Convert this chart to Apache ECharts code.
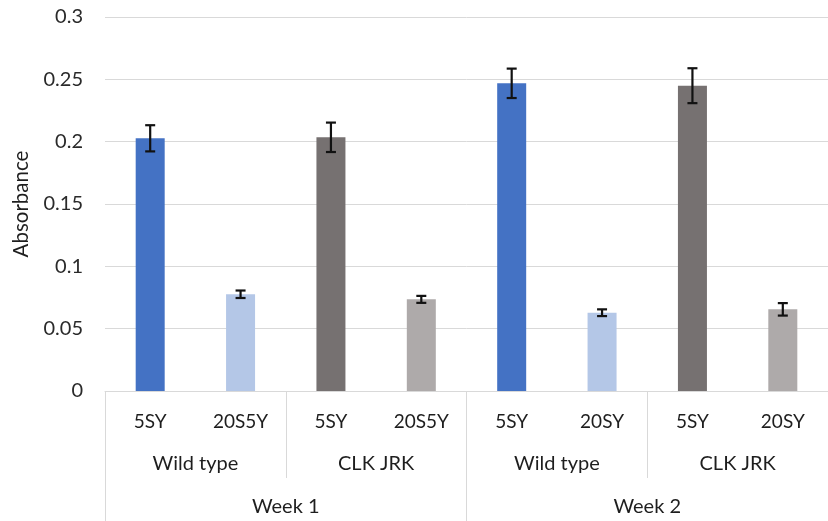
<!DOCTYPE html>
<html>
<head>
<meta charset="utf-8">
<script src="https://cdn.jsdelivr.net/npm/echarts@6/dist/echarts.min.js"></script>
<style>
  html, body { margin: 0; padding: 0; background: #fff; }
  #chart { width: 828px; height: 521px; }
</style>
</head>
<body>
<div id="chart"></div>
<script>
const samples = ["5SY", "20S5Y", "5SY", "20S5Y", "5SY", "20SY", "5SY", "20SY"];
const strains = ["Wild type", "CLK JRK", "Wild type", "CLK JRK"];
const weeks = ["Week 1", "Week 2"];
const absorbance = [0.2027, 0.0776, 0.2035, 0.0735, 0.2468, 0.0628, 0.2449, 0.0655];
const errors = [0.0105, 0.0030, 0.0118, 0.0028, 0.0118, 0.0027, 0.0140, 0.0050];
const yTicks = [0, 0.05, 0.1, 0.15, 0.2, 0.25, 0.3];

const colors = ["#4472c4", "#b4c7e7", "#767171", "#aeaaaa", "#4472c4", "#b4c7e7", "#767171", "#aeaaaa"];
const font = "Lato";
const lineColor = "#d9d9d9";
const textColor = "#1e1e1e";

const chart = echarts.init(document.getElementById("chart"));

chart.setOption({
  backgroundColor: "#fff",
  animation: false,
  grid: { left: 105, right: -8, top: 17, bottom: 130 },
  xAxis: [
    {
      type: "category",
      position: "bottom",
      data: samples,
      axisLine: { show: true, lineStyle: { color: lineColor, width: 1 } },
      axisTick: { show: false },
      axisLabel: { margin: 21, fontFamily: font, fontSize: 19, color: textColor },
    },
    {
      type: "category",
      position: "bottom",
      data: strains,
      axisLine: { show: false },
      axisTick: { show: true, length: 87, lineStyle: { color: lineColor } },
      axisLabel: { margin: 63, fontFamily: font, fontSize: 20, color: textColor },
    },
    {
      type: "category",
      position: "bottom",
      data: weeks,
      axisLine: { show: false },
      axisTick: { show: true, length: 131, lineStyle: { color: lineColor } },
      axisLabel: { margin: 106, fontFamily: font, fontSize: 20, color: textColor },
    },
  ],
  yAxis: {
    type: "value",
    min: 0,
    max: 0.3,
    interval: 0.05,
    name: "Absorbance",
    nameLocation: "middle",
    nameGap: 73,
    nameRotate: 90,
    nameTextStyle: { fontFamily: font, fontSize: 20.5, color: textColor },
    axisLine: { show: false },
    axisTick: { show: false },
    splitLine: { lineStyle: { color: lineColor, width: 1 } },
    axisLabel: {
      margin: 22,
      fontFamily: font,
      fontSize: 20,
      color: "#2a2a2a",
      formatter: (v) => {
        const t = yTicks.find((k) => Math.abs(k - v) < 1e-9);
        return String(t === undefined ? v : t);
      },
    },
  },
  series: [
    {
      type: "bar",
      xAxisIndex: 0,
      barWidth: 29,
      data: absorbance.map((v, i) => ({ value: v, itemStyle: { color: colors[i] } })),
    },
    {
      type: "custom",
      xAxisIndex: 0,
      data: absorbance.map((v, i) => [i, v - errors[i], v + errors[i]]),
      z: 10,
      renderItem: (params, api) => {
        const lo = api.coord([api.value(0), api.value(1)]);
        const hi = api.coord([api.value(0), api.value(2)]);
        const half = 5;
        const style = { stroke: "#111", lineWidth: 2.2 };
        return {
          type: "group",
          children: [
            { type: "line", shape: { x1: lo[0], y1: lo[1], x2: hi[0], y2: hi[1] }, style },
            { type: "line", shape: { x1: hi[0] - half, y1: hi[1], x2: hi[0] + half, y2: hi[1] }, style },
            { type: "line", shape: { x1: lo[0] - half, y1: lo[1], x2: lo[0] + half, y2: lo[1] }, style },
          ],
        };
      },
    },
  ],
});
</script>
</body>
</html>
